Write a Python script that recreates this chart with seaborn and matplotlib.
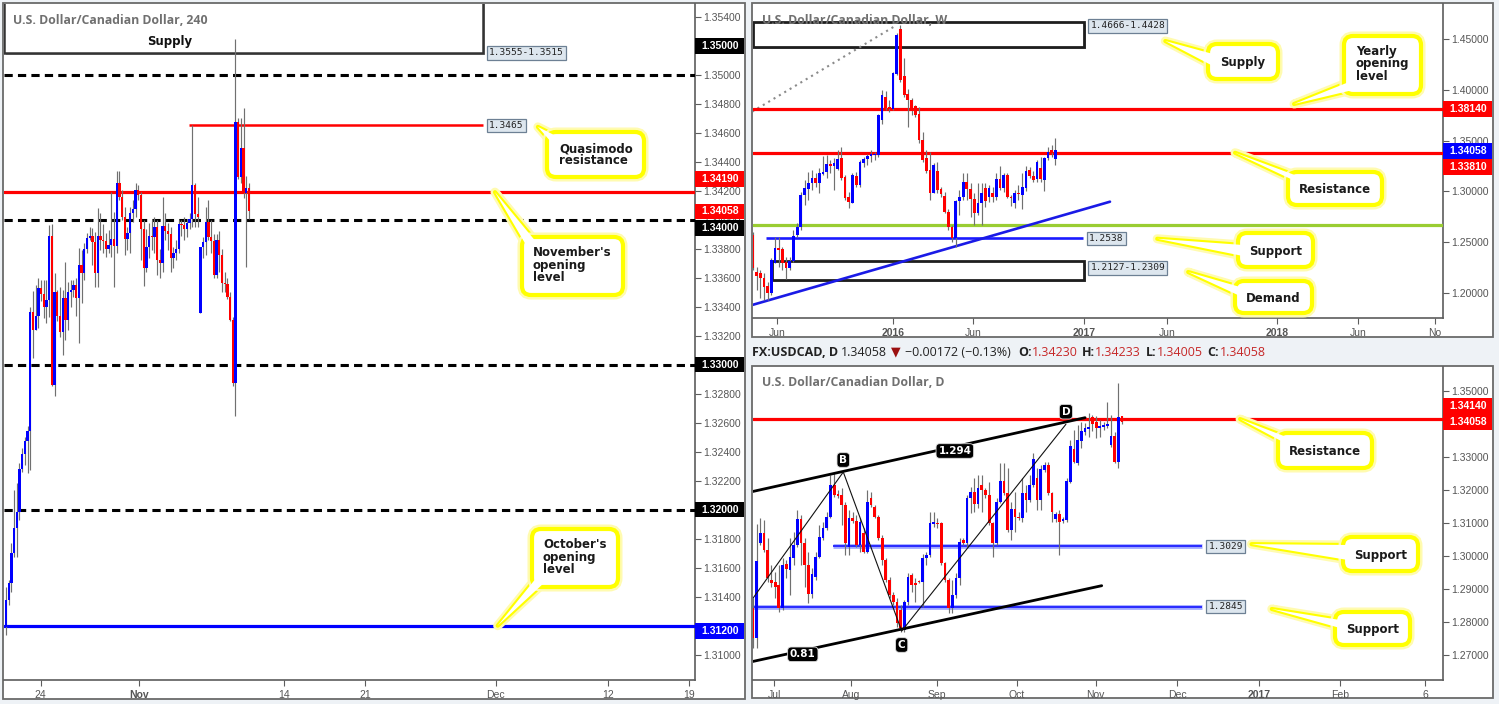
import numpy as np
import matplotlib
matplotlib.use("Agg")
import matplotlib.pyplot as plt
import matplotlib.transforms as mtransforms
import matplotlib.patheffects as pe
from matplotlib.patches import Rectangle, FancyBboxPatch, Polygon
import seaborn as sns

# ======================= DATA =======================
# ---- H4 (240) candles ----
h4_open = [1.31193, 1.31377, 1.31492, 1.31698, 1.31871, 1.31986, 1.32278, 1.32383, 1.32473, 1.32544,
           1.33360, 1.33239, 1.33335, 1.33526, 1.33490, 1.33400, 1.33446, 1.33887, 1.32859, 1.33498,
           1.33337, 1.33227, 1.33457, 1.33308, 1.33498, 1.33514, 1.33549, 1.33457, 1.33687, 1.33629,
           1.33795, 1.33871, 1.33887, 1.33848, 1.33629, 1.33887, 1.33859, 1.33855, 1.33795, 1.33825,
           1.33864, 1.33818, 1.34250, 1.34159, 1.34021, 1.33864, 1.33906, 1.34044, 1.34071, 1.34205,
           1.34170, 1.33933, 1.33664, 1.33814, 1.33887, 1.33883, 1.33952, 1.33722, 1.33700, 1.33956,
           1.33924, 1.33901, 1.33733, 1.33768, 1.33795, 1.33970, 1.33963, 1.33933, 1.33979, 1.34002,
           1.34239, 1.34039, 1.33359, 1.33814, 1.33848, 1.33986, 1.33883, 1.33855, 1.33618, 1.33860,
           1.33756, 1.33566, 1.33556, 1.33469, 1.33308, 1.32874, 1.34676, 1.34297, 1.34493, 1.34182,
           1.34218]
h4_high = [1.31469, 1.31515, 1.31767, 1.32135, 1.32181, 1.32319, 1.32423, 1.32503, 1.32577, 1.33400,
           1.33510, 1.33549, 1.33595, 1.33583, 1.33583, 1.33583, 1.33963, 1.33970, 1.33629, 1.33514,
           1.33537, 1.33514, 1.33710, 1.33572, 1.33583, 1.33583, 1.33595, 1.33802, 1.33790, 1.33836,
           1.33905, 1.33951, 1.33940, 1.33917, 1.34078, 1.34043, 1.33970, 1.33905, 1.33928, 1.34193,
           1.34055, 1.34338, 1.34338, 1.34205, 1.34090, 1.33952, 1.34090, 1.34136, 1.34251, 1.34239,
           1.34193, 1.34000, 1.33933, 1.33979, 1.34000, 1.34021, 1.33998, 1.33800, 1.34159, 1.34044,
           1.33979, 1.33952, 1.33814, 1.33860, 1.33998, 1.34000, 1.34021, 1.34000, 1.34044, 1.34653,
           1.34251, 1.34159, 1.33814, 1.33883, 1.34090, 1.34136, 1.34000, 1.33900, 1.33900, 1.33920,
           1.33800, 1.33640, 1.33600, 1.33500, 1.33330, 1.35244, 1.34700, 1.34700, 1.34768, 1.34300,
           1.34250]
h4_low = [1.31135, 1.31342, 1.31434, 1.31675, 1.31675, 1.31928, 1.32262, 1.32308, 1.32255, 1.32273,
          1.33043, 1.33239, 1.33250, 1.33440, 1.33319, 1.33285, 1.33331, 1.32852, 1.32783, 1.33303,
          1.33193, 1.33066, 1.33170, 1.33239, 1.33400, 1.33468, 1.33335, 1.33147, 1.33423, 1.33583,
          1.33767, 1.33859, 1.33687, 1.33537, 1.33537, 1.33790, 1.33767, 1.33744, 1.33767, 1.33744,
          1.33537, 1.33767, 1.34136, 1.33998, 1.33756, 1.33791, 1.33768, 1.33986, 1.34021, 1.34136,
          1.33722, 1.33540, 1.33640, 1.33733, 1.33791, 1.33768, 1.33618, 1.33595, 1.33640, 1.33860,
          1.33791, 1.33640, 1.33664, 1.33720, 1.33768, 1.33887, 1.33860, 1.33883, 1.33933, 1.33952,
          1.33952, 1.33952, 1.33359, 1.33733, 1.33756, 1.33860, 1.33768, 1.33600, 1.33595, 1.33640,
          1.33500, 1.33500, 1.33450, 1.33300, 1.32850, 1.32648, 1.34280, 1.34250, 1.34150, 1.33676,
          1.34005]
h4_close = [1.31377, 1.31492, 1.31698, 1.31871, 1.31986, 1.32278, 1.32383, 1.32473, 1.32544, 1.33360,
            1.33239, 1.33335, 1.33526, 1.33490, 1.33400, 1.33446, 1.33887, 1.32859, 1.33498, 1.33337,
            1.33227, 1.33457, 1.33308, 1.33498, 1.33514, 1.33549, 1.33457, 1.33687, 1.33629, 1.33795,
            1.33871, 1.33887, 1.33848, 1.33629, 1.33887, 1.33859, 1.33855, 1.33795, 1.33825, 1.33864,
            1.33818, 1.34250, 1.34159, 1.34021, 1.33864, 1.33906, 1.34044, 1.34071, 1.34205, 1.34170,
            1.33933, 1.33664, 1.33814, 1.33887, 1.33883, 1.33952, 1.33722, 1.33700, 1.33956, 1.33924,
            1.33901, 1.33733, 1.33768, 1.33795, 1.33970, 1.33963, 1.33933, 1.33979, 1.34002, 1.34239,
            1.34039, 1.34021, 1.33814, 1.33848, 1.33986, 1.33883, 1.33855, 1.33618, 1.33860, 1.33756,
            1.33566, 1.33556, 1.33469, 1.33308, 1.32874, 1.34676, 1.34297, 1.34493, 1.34182, 1.34218,
            1.34058]
h4_tick_pos = [12.85, 49.37, 102.96, 132.96, 181.37, 223.07, 252.96]
h4_tick_lbl = ["24", "Nov", "14", "21", "Dec", "12", "19"]
h4_yticks = [1.310, 1.314, 1.316, 1.318, 1.320, 1.322, 1.324, 1.326, 1.328, 1.330, 1.332,
             1.334, 1.336, 1.338, 1.340, 1.342, 1.344, 1.346, 1.348, 1.350, 1.352, 1.354]
h4_round_levels = [1.350, 1.340, 1.330, 1.320]
h4_nov_open = 1.3419
h4_oct_open = 1.3120
h4_qm = 1.3465
h4_supply = [1.3515, 1.3555]

# ---- Weekly candles ----
w_open = [1.2571, 1.2209, 1.2193, 1.2143, 1.2068, 1.1995, 1.2291, 1.2439, 1.2429, 1.2308,
          1.2242, 1.2314, 1.2571, 1.2653, 1.2965, 1.3021, 1.3080, 1.3129, 1.3080, 1.3172,
          1.3195, 1.3271, 1.3254, 1.3218, 1.3327, 1.3146, 1.2942, 1.2890, 1.3152, 1.3064,
          1.3284, 1.3317, 1.3350, 1.3360, 1.3360, 1.3705, 1.3935, 1.3830, 1.3810, 1.4158,
          1.4599, 1.4139, 1.3958, 1.3902, 1.3843, 1.3761, 1.3507, 1.3327, 1.3212, 1.2988,
          1.3205, 1.3021, 1.2955, 1.2797, 1.2653, 1.2538, 1.2906, 1.2942, 1.3097, 1.3021,
          1.2922, 1.2784, 1.2883, 1.3037, 1.2949, 1.2982, 1.2949, 1.3123, 1.3037, 1.3162,
          1.2942, 1.2883, 1.2988, 1.2965, 1.3031, 1.3212, 1.3156, 1.3120, 1.3235, 1.3113,
          1.3327, 1.3409, 1.3320]
w_high = [1.2600, 1.2258, 1.2225, 1.2193, 1.2111, 1.2341, 1.2554, 1.2554, 1.2456, 1.2357,
          1.2357, 1.2620, 1.2692, 1.2998, 1.3113, 1.3195, 1.3212, 1.3179, 1.3228, 1.3350,
          1.3360, 1.3310, 1.3327, 1.3409, 1.3442, 1.3162, 1.2998, 1.3179, 1.3195, 1.3310,
          1.3343, 1.3369, 1.3409, 1.3392, 1.3764, 1.4001, 1.3994, 1.3902, 1.4181, 1.4559,
          1.4640, 1.4313, 1.4007, 1.3918, 1.3853, 1.3830, 1.3590, 1.3409, 1.3392, 1.3277,
          1.3287, 1.3047, 1.2998, 1.2830, 1.2669, 1.2916, 1.3014, 1.3179, 1.3179, 1.3087,
          1.2982, 1.3087, 1.3087, 1.3080, 1.3064, 1.3047, 1.3179, 1.3251, 1.3179, 1.3179,
          1.2965, 1.3014, 1.3064, 1.3179, 1.3251, 1.3244, 1.3205, 1.3310, 1.3337, 1.3343,
          1.3442, 1.3459, 1.3524]
w_low = [1.2225, 1.2028, 1.1946, 1.1930, 1.1930, 1.1979, 1.2291, 1.2258, 1.2225, 1.2134,
         1.2225, 1.2308, 1.2554, 1.2620, 1.2866, 1.2916, 1.3014, 1.3047, 1.2982, 1.3162,
         1.3129, 1.3179, 1.3014, 1.3212, 1.3113, 1.2916, 1.2834, 1.2883, 1.3047, 1.3047,
         1.3244, 1.3261, 1.3294, 1.3310, 1.3343, 1.3665, 1.3803, 1.3787, 1.3803, 1.4148,
         1.4083, 1.3935, 1.3639, 1.3754, 1.3738, 1.3481, 1.3294, 1.3179, 1.2916, 1.2982,
         1.2982, 1.2949, 1.2784, 1.2620, 1.2505, 1.2456, 1.2768, 1.2916, 1.2916, 1.2751,
         1.2669, 1.2768, 1.2669, 1.2850, 1.2899, 1.2899, 1.2916, 1.3014, 1.2998, 1.2932,
         1.2857, 1.2834, 1.2916, 1.2824, 1.3000, 1.3130, 1.3097, 1.3097, 1.3097, 1.3008,
         1.3310, 1.3343, 1.3265]
w_close = [1.2242, 1.2166, 1.2143, 1.2061, 1.1995, 1.2324, 1.2439, 1.2423, 1.2291, 1.2242,
           1.2314, 1.2561, 1.2653, 1.2965, 1.3031, 1.3080, 1.3129, 1.3080, 1.3179, 1.3195,
           1.3271, 1.3254, 1.3277, 1.3317, 1.3129, 1.2932, 1.2899, 1.3162, 1.3064, 1.3294,
           1.3317, 1.3350, 1.3366, 1.3366, 1.3754, 1.3951, 1.3820, 1.3810, 1.4171, 1.4543,
           1.4099, 1.3951, 1.3902, 1.3797, 1.3754, 1.3507, 1.3310, 1.3205, 1.2988, 1.3261,
           1.3014, 1.2975, 1.2797, 1.2653, 1.2538, 1.2906, 1.2949, 1.3097, 1.3021, 1.2922,
           1.2784, 1.2883, 1.2988, 1.2906, 1.3031, 1.2949, 1.3123, 1.3031, 1.3162, 1.2949,
           1.2932, 1.2988, 1.2975, 1.3041, 1.3205, 1.3156, 1.3113, 1.3287, 1.3120, 1.3327,
           1.3392, 1.3376, 1.3406]
w_tick_pos = [6.5, 37.94, 59.62, 89.86, 112.2, 142.1, 163.96, 184.9]
w_tick_lbl = ["Jun", "2016", "Jun", "2017", "Jun", "2018", "Jun", "No"]
w_yticks = [1.20, 1.25, 1.30, 1.35, 1.40, 1.45]
w_yearly_open = 1.3814
w_resistance = 1.3381
w_green = 1.2666
w_support = 1.2538
w_supply = [1.4428, 1.4666]
w_demand = [1.2127, 1.2309]
w_trend_x = [-0.2, 96.8]
w_trend_y = [1.18797, 1.28984]
w_dots_x = [-0.2, 39.0]
w_dots_y = [1.3786, 1.4641]

# ---- Daily candles ----
d_open = [1.28405, 1.27496, 1.30375, 1.30678, 1.30173, 1.29264, 1.29213, 1.29112, 1.28405, 1.29739,
          1.29567, 1.29940, 1.30324, 1.31112, 1.30375, 1.29718, 1.28829, 1.29365, 1.29971, 1.30526,
          1.30829, 1.31183, 1.32143, 1.31860, 1.31840, 1.31537, 1.30274, 1.31152, 1.31051, 1.30324,
          1.30678, 1.30122, 1.31739, 1.31486, 1.31183, 1.30526, 1.29870, 1.29264, 1.28809, 1.28607,
          1.28355, 1.27749, 1.28607, 1.29415, 1.29163, 1.29238, 1.29213, 1.29920, 1.30021, 1.30951,
          1.31001, 1.30981, 1.29769, 1.29264, 1.28405, 1.28809, 1.29314, 1.30476, 1.30375, 1.31739,
          1.31941, 1.31557, 1.32143, 1.31991, 1.31840, 1.30981, 1.30375, 1.31638, 1.32264, 1.31890,
          1.30779, 1.31415, 1.31183, 1.31152, 1.31890, 1.31688, 1.32143, 1.32345, 1.31688, 1.32597,
          1.32749, 1.31890, 1.31112, 1.31254, 1.31051, 1.31082, 1.32244, 1.33233, 1.32799, 1.33476,
          1.33759, 1.33840, 1.34213, 1.34062, 1.33880, 1.33910, 1.33941, 1.33355, 1.33637, 1.32850,
          1.34230]
d_high = [1.28708, 1.30951, 1.31132, 1.31082, 1.30526, 1.29718, 1.29516, 1.29718, 1.29920, 1.29870,
          1.30526, 1.30728, 1.31385, 1.31233, 1.30526, 1.30122, 1.29617, 1.30122, 1.30930, 1.31031,
          1.31334, 1.32446, 1.32516, 1.31991, 1.32042, 1.31638, 1.31385, 1.31334, 1.31233, 1.31132,
          1.30829, 1.31991, 1.31941, 1.31537, 1.31233, 1.30627, 1.29920, 1.29365, 1.28910, 1.28708,
          1.28506, 1.28657, 1.29466, 1.29466, 1.29314, 1.29264, 1.30042, 1.30122, 1.31334, 1.31334,
          1.31132, 1.31031, 1.29819, 1.29314, 1.29264, 1.29466, 1.30526, 1.30526, 1.31840, 1.32092,
          1.32345, 1.32446, 1.32446, 1.32042, 1.32244, 1.31031, 1.31739, 1.32799, 1.32799, 1.32648,
          1.31638, 1.31941, 1.31334, 1.32345, 1.32143, 1.32446, 1.33102, 1.32648, 1.32749, 1.32850,
          1.32850, 1.31941, 1.31334, 1.31385, 1.31183, 1.32345, 1.33506, 1.33809, 1.33961, 1.34062,
          1.34011, 1.34315, 1.34264, 1.34244, 1.34112, 1.34062, 1.34668, 1.34264, 1.33759, 1.35223,
          1.34233]
d_low = [1.27193, 1.27193, 1.30324, 1.30122, 1.29213, 1.29062, 1.28708, 1.28304, 1.28355, 1.29314,
         1.28809, 1.29718, 1.30274, 1.29718, 1.29062, 1.28557, 1.28708, 1.29264, 1.29920, 1.30476,
         1.30779, 1.31132, 1.31789, 1.31739, 1.30930, 1.30021, 1.30021, 1.30981, 1.30274, 1.30122,
         1.30072, 1.30072, 1.31486, 1.31132, 1.30476, 1.29718, 1.29213, 1.28708, 1.28506, 1.27850,
         1.27698, 1.27698, 1.28506, 1.28910, 1.28607, 1.29163, 1.28456, 1.29718, 1.29971, 1.30880,
         1.30829, 1.29718, 1.29213, 1.28254, 1.28254, 1.28708, 1.29112, 1.30324, 1.30274, 1.31284,
         1.31334, 1.31436, 1.31334, 1.31739, 1.30930, 1.29971, 1.30324, 1.31587, 1.31840, 1.30728,
         1.30476, 1.30728, 1.31082, 1.31031, 1.31334, 1.31638, 1.32092, 1.31385, 1.31385, 1.32547,
         1.31840, 1.31031, 1.31031, 1.30021, 1.30981, 1.31031, 1.32193, 1.32799, 1.32749, 1.33254,
         1.33658, 1.33607, 1.33779, 1.33557, 1.33607, 1.33809, 1.33860, 1.33304, 1.32799, 1.32648,
         1.34005]
d_close = [1.27496, 1.29840, 1.30678, 1.30173, 1.29314, 1.29163, 1.29062, 1.28405, 1.29718, 1.29597,
           1.29971, 1.30324, 1.31112, 1.30375, 1.29718, 1.28829, 1.29436, 1.29971, 1.30577, 1.30829,
           1.31183, 1.32143, 1.31840, 1.31820, 1.31537, 1.30375, 1.31132, 1.31051, 1.30324, 1.31031,
           1.30122, 1.31638, 1.31537, 1.31183, 1.30526, 1.29870, 1.29264, 1.28809, 1.28607, 1.27950,
           1.27800, 1.28607, 1.29365, 1.29112, 1.29112, 1.29198, 1.29920, 1.30021, 1.30981, 1.31031,
           1.30951, 1.29769, 1.29264, 1.28405, 1.28809, 1.29314, 1.30425, 1.30375, 1.31739, 1.31941,
           1.31557, 1.32042, 1.31991, 1.31840, 1.30981, 1.30375, 1.31638, 1.32264, 1.31890, 1.30779,
           1.31415, 1.31183, 1.31152, 1.31890, 1.31688, 1.32143, 1.32930, 1.31688, 1.32627, 1.32749,
           1.31890, 1.31334, 1.31254, 1.31031, 1.31112, 1.32264, 1.33324, 1.32829, 1.33506, 1.33779,
           1.33860, 1.33910, 1.33981, 1.33860, 1.33930, 1.33961, 1.33981, 1.33637, 1.32850, 1.34213,
           1.34058]
d_tick_pos = [5.77, 26.56, 49.95, 71.46, 92.87, 114.99, 137.21, 159.08, 182.11]
d_tick_lbl = ["Jul", "Aug", "Sep", "Oct", "Nov", "Dec", "2017", "Feb", "6"]
d_yticks = [1.27, 1.28, 1.29, 1.30, 1.31, 1.32, 1.33, 1.35]
d_resistance = 1.3414
d_supports = [1.3029, 1.2845]
d_upper_x = [-0.35, 90.0]
d_upper_y = [1.31939, 1.34182]
d_lower_x = [-0.35, 94.5]
d_lower_y = [1.26788, 1.29091]
d_abcd_x = [-0.35, 24.47, 40.3, 84.8]
d_abcd_y = [1.28658, 1.32536, 1.27718, 1.33982]

# ======================= STYLE =======================
sns.set_theme(style="white")
plt.rcParams["font.family"] = ["Liberation Sans", "DejaVu Sans"]

W, H = 1499, 704
BG = "#eef2f6"
UP, DOWN, WICK = "#0000ff", "#ff0000", "#707070"
GTXT = "#555555"
SPINE = "#5c5c5c"
YEL = "#ffff00"

fig = plt.figure(figsize=(W / 100, H / 100), dpi=100)
fig.patch.set_facecolor(BG)


def panel(l, t, r, b):
    fig.patches.append(Rectangle((l / W, 1 - b / H), (r - l) / W, (b - t) / H,
                                 transform=fig.transFigure, fc="white", ec="#6a6a6a",
                                 lw=1.3, zorder=-5))


def axes_px(l, t, r, b, xlim, ylim):
    ax = fig.add_axes([l / W, 1 - b / H, (r - l) / W, (b - t) / H])
    ax.set_facecolor("white")
    for s in ("top", "left"):
        ax.spines[s].set_visible(False)
    for s in ("right", "bottom"):
        ax.spines[s].set_color(SPINE)
        ax.spines[s].set_linewidth(1.2)
    ax.yaxis.tick_right()
    ax.tick_params(axis="y", which="both", right=True, left=False, labelright=True,
                   labelleft=False, length=4, width=0.8, color=SPINE, labelsize=7.5,
                   labelcolor=GTXT, pad=2)
    ax.tick_params(axis="x", bottom=True, length=4, width=0.8, color=SPINE,
                   labelsize=7.5, labelcolor=GTXT, pad=3)
    ax.grid(False)
    ax.set_xlim(*xlim)
    ax.set_ylim(*ylim)
    ax.set_autoscale_on(False)
    return ax


def candles(ax, o, h, l, c, width, minh):
    o, h, l, c = map(np.asarray, (o, h, l, c))
    x = np.arange(len(o))
    ax.vlines(x, l, h, color=WICK, lw=0.85, zorder=4)
    bottom = np.minimum(o, c)
    height = np.maximum(np.abs(c - o), minh)
    colors = np.where(c >= o, UP, DOWN)
    ax.bar(x, height, width=width, bottom=bottom, color=colors, linewidth=0, zorder=5)


def set_xticks(ax, pos, lbl, bold):
    ax.set_xticks(pos)
    ax.set_xticklabels(lbl)
    for t, s in zip(ax.get_xticklabels(), lbl):
        if s in bold:
            t.set_fontweight("bold")


def set_yticks(ax, ticks):
    ax.set_yticks(ticks)
    ax.set_yticklabels([f"{v:.5f}" for v in ticks])


def price_tag(ax, y, text, fc, hpx=15.5, wpx=49):
    tr = mtransforms.blended_transform_factory(ax.transAxes, ax.transData)
    axw = ax.bbox.width
    y0, y1 = ax.get_ylim()
    ppu = ax.bbox.height / (y1 - y0)
    ax.add_patch(Rectangle((1.0, y - hpx / 2 / ppu), wpx / axw, hpx / ppu, transform=tr,
                           fc=fc, ec="none", clip_on=False, zorder=30))
    ax.text(1.0 + (wpx / 2 + 1) / axw, y, text, transform=tr, ha="center", va="center",
            color="white", fontsize=7.5, fontweight="bold", clip_on=False, zorder=31)


def level_tag(ax, x, y, text, va="center", dy=0):
    ax.annotate(text, xy=(x, y), xytext=(6, dy), textcoords="offset pixels", ha="left",
                va=va, fontsize=6.8, family="DejaVu Sans Mono", color="#222222",
                bbox=dict(boxstyle="square,pad=0.22", fc="#dde6ee", ec="#6d8094", lw=0.9),
                zorder=25, annotation_clip=False)


def dark_tag(ax, x, y, text, fs=7.5):
    ax.text(x, y, text, ha="center", va="center", fontsize=fs, fontweight="bold",
            color="white", family="DejaVu Sans", zorder=26,
            bbox=dict(boxstyle="round,pad=0.22,rounding_size=0.35", fc="black", ec="#dddddd", lw=0.6))


panel(3.3, 3.3, 745, 699.3)
panel(751.7, 2.7, 1493, 336.7)
panel(751.7, 365.7, 1493.3, 698)

# ======================= H4 PANEL =======================
ax1 = axes_px(4, 4, 695, 680, (-0.74, 255.19), (1.308255, 1.354876))
ax1.add_patch(Rectangle((-0.74, h4_supply[0]), 176.7 + 0.74, h4_supply[1] - h4_supply[0],
                        fc="white", ec="#333333", lw=1.8, zorder=2,
                        path_effects=[pe.SimplePatchShadow(offset=(1.5, -1.5), shadow_rgbFace="#999999", alpha=0.8), pe.Normal()]))
ax1.text(60.7, 1.35232, "Supply", ha="center", va="center", fontsize=8.5, fontweight="bold",
         color="#111111", family="DejaVu Sans", zorder=6)
for lv in h4_round_levels:
    ax1.axhline(lv, color="black", lw=2.2, ls=(0, (2.7, 1.7)), zorder=3)
ax1.axhline(h4_nov_open, color="#ff0000", lw=2.3, zorder=3)
ax1.axhline(h4_oct_open, color="#0000ff", lw=2.3, zorder=3)
ax1.hlines(h4_qm, 67.8, 176.7, color="#ff0000", lw=1.8, zorder=3)
candles(ax1, h4_open, h4_high, h4_low, h4_close, 0.88, 0.00007)
level_tag(ax1, 176.7, h4_supply[0], "1.3555-1.3515")
level_tag(ax1, 176.7, h4_qm, "1.3465")
set_xticks(ax1, h4_tick_pos, h4_tick_lbl, {"Nov"})
set_yticks(ax1, h4_yticks)
for txt, yy, col in [("1.35000", 1.35198, "black"), ("1.34190", 1.34281, "#ff0000"),
                     ("1.34058", 1.34058, "#ff0000"), ("1.34000", 1.33943, "black"),
                     ("1.33000", 1.33000, "black"), ("1.32000", 1.32000, "black"),
                     ("1.31200", 1.31164, "#0000ff")]:
    price_tag(ax1, yy, txt, col)

# ======================= WEEKLY PANEL =======================
ax2 = axes_px(752.7, 3.7, 1443, 318, (-0.05, 187.07), (1.17515, 1.48511))
for lo, hi, x0 in [(w_supply[0], w_supply[1], -0.05), (w_demand[0], w_demand[1], 5.15)]:
    ax2.add_patch(Rectangle((x0, lo), 89.86 - x0, hi - lo, fc="white", ec="#1e1e1e", lw=2.0, zorder=2,
                            path_effects=[pe.SimplePatchShadow(offset=(1.5, -1.5), shadow_rgbFace="#888888", alpha=0.8), pe.Normal()]))
sns.lineplot(x=w_dots_x, y=w_dots_y, ax=ax2, color="#8a8a8a", lw=1.5, ls=(0, (1, 2)), zorder=3)
ax2.axhline(w_yearly_open, color="#ff0000", lw=2.3, zorder=3)
ax2.axhline(w_resistance, color="#ff0000", lw=2.3, zorder=3)
ax2.axhline(w_green, color="#9acd32", lw=2.3, zorder=3)
ax2.hlines(w_support, 3.5, 89.5, color="#1a1aff", lw=1.9, zorder=3)
sns.lineplot(x=w_trend_x, y=w_trend_y, ax=ax2, color="#1a1ae6", lw=1.9, zorder=3)
candles(ax2, w_open, w_high, w_low, w_close, 0.74, 0.001)
level_tag(ax2, 89.86, w_supply[1], "1.4666-1.4428", va="top", dy=1)
level_tag(ax2, 89.5, w_support, "1.2538")
level_tag(ax2, 89.86, w_demand[1], "1.2127-1.2309", va="top", dy=-2)
set_xticks(ax2, w_tick_pos, w_tick_lbl, {"2016", "2017", "2018"})
set_yticks(ax2, w_yticks)
ax2.set_xlabel("")
ax2.set_ylabel("")
for txt, yy, col in [("1.38140", 1.38156, "#ff0000"), ("1.34058", 1.33964, "#0000ff"),
                     ("1.33810", 1.32436, "#ff0000")]:
    price_tag(ax2, yy, txt, col, hpx=16)

# ======================= DAILY PANEL =======================
ax3 = axes_px(752.7, 366.7, 1443, 680, (-0.08, 186.99), (1.262333, 1.357273))
ax3.axhline(d_resistance, color="#ff0000", lw=2.3, zorder=3)
for lv, x0 in zip(d_supports, [21.6, -0.08]):
    ax3.hlines(lv, x0, 121.8, color="#9fa8ff", lw=3.4, zorder=3)
    ax3.hlines(lv, x0, 121.8, color="#2020ff", lw=1.3, zorder=3)
candles(ax3, d_open, d_high, d_low, d_close, 0.74, 0.0003)
sns.lineplot(x=d_upper_x, y=d_upper_y, ax=ax3, color="black", lw=2.0, zorder=6)
sns.lineplot(x=d_lower_x, y=d_lower_y, ax=ax3, color="black", lw=2.0, zorder=6)
sns.lineplot(x=d_abcd_x, y=d_abcd_y, ax=ax3, color="#111111", lw=0.8, sort=False, zorder=6)
dark_tag(ax3, 54.7, 1.33173, "1.294")
dark_tag(ax3, 13.5, 1.27012, "0.81")
dark_tag(ax3, 24.47, 1.32900, "B")
dark_tag(ax3, 40.3, 1.27294, "C")
dark_tag(ax3, 84.8, 1.34364, "D")
level_tag(ax3, 121.8, d_supports[0], "1.3029")
level_tag(ax3, 121.8, d_supports[1], "1.2845")
set_xticks(ax3, d_tick_pos, d_tick_lbl, {"2017"})
set_yticks(ax3, d_yticks)
ax3.set_xlabel("")
ax3.set_ylabel("")
for txt, yy in [("1.34140", 1.34530), ("1.34058", 1.34045)]:
    price_tag(ax3, yy, txt, "#ff0000", hpx=16.2)

# ======================= TITLES / HEADER =======================
TFAM = ["Open Sans", "DejaVu Sans"]
fig.text(12.7 / W, 1 - 20 / H, "U.S. Dollar/Canadian Dollar, 240", family=TFAM, fontsize=8.8,
         fontweight="bold", color="#707070", va="center", ha="left", zorder=60)
fig.text(761.7 / W, 1 - 20 / H, "U.S. Dollar/Canadian Dollar, W", family=TFAM, fontsize=8.8,
         fontweight="bold", color="#707070", va="center", ha="left", zorder=60)
fig.text(761.7 / W, 1 - 382 / H, "U.S. Dollar/Canadian Dollar, D", family=TFAM, fontsize=8.8,
         fontweight="bold", color="#707070", va="center", ha="left", zorder=60)

RED = "#c62828"
header = [(751.7, "FX:USDCAD, D", "#222222", "bold"), (840.7, "1.34058", "#222222", "normal"),
          (891.0, "\u25BC", "#9b1010", "normal"), (905.0, "\u22120.00172 (\u22120.13%)", "#222222", "normal"),
          (1018.0, "O:", "#222222", "bold"), (1031.7, "1.34230", RED, "normal"),
          (1081.7, "H:", "#222222", "bold"), (1095.0, "1.34233", RED, "normal"),
          (1145.7, "L:", "#222222", "bold"), (1156.7, "1.34005", RED, "normal"),
          (1207.7, "C:", "#222222", "bold"), (1220.0, "1.34058", RED, "normal")]
for xp, s, col, wt in header:
    fig.text(xp / W, 1 - 352 / H, s, family=TFAM, fontsize=9, fontweight=wt, color=col,
             va="center", ha="left")

# ======================= CALLOUTS =======================
ov = fig.add_axes([0, 0, 1, 1], zorder=50)
ov.set_xlim(0, W)
ov.set_ylim(H, 0)
ov.axis("off")
ov.patch.set_alpha(0)


def to_px(ax, x, y):
    dx, dy = ax.transData.transform((x, y))
    return dx, H - dy


def callout(box, tip, base, text, left=None):
    l, t, r, b = box
    glow = [pe.Stroke(linewidth=6.5, foreground="#fffbb0"), pe.Normal()]
    wedge = [base[0], tip, base[1]]
    ov.add_patch(Polygon(wedge, closed=True, fc="white", ec=YEL, lw=3.0, joinstyle="round",
                         path_effects=glow, zorder=1))
    ov.add_patch(FancyBboxPatch((l, t), r - l, b - t, boxstyle="round,pad=0,rounding_size=9",
                                fc="white", ec=YEL, lw=3.0, path_effects=glow, zorder=2))
    ov.add_patch(Polygon(wedge, closed=True, fc="white", ec="none", zorder=3))
    if left is None:
        ov.text((l + r) / 2, (t + b) / 2 + 1, text, ha="center", va="center", fontsize=8.5,
                fontweight="bold", color="#1a1a1a", family="DejaVu Sans", zorder=4)
    else:
        ov.text(left[0], left[1], text, ha="left", va="top", fontsize=8.5, linespacing=0.95,
                fontweight="bold", color="#1a1a1a", family="DejaVu Sans", zorder=4)


callout((547, 132, 644, 177), to_px(ax1, 197.0, 1.3464), [(558, 137), (552, 143)],
        "Quasimodo\nresistance", left=(559, 142))
callout((522, 237, 623, 295), to_px(ax1, 181.1, h4_nov_open), [(529, 250), (537, 243)],
        "November's\nopening\nlevel", left=(533, 246))
callout((532, 529, 618, 587), to_px(ax1, 182.1, h4_oct_open), [(537, 577), (545, 582)],
        "October's\nopening\nlevel", left=(543, 538))
callout((1208, 44, 1278, 79), to_px(ax2, 111.8, 1.4483), [(1213, 54), (1213, 66)], "Supply")
callout((1344, 36, 1421, 94), to_px(ax2, 146.7, 1.3862), [(1349, 82), (1357, 89)],
        "Yearly\nopening\nlevel", left=(1356, 45))
callout((1288, 172, 1382, 205), to_px(ax2, 130.7, w_resistance), [(1293, 180), (1300, 177)], "Resistance")
callout((1238, 233, 1313, 267), to_px(ax2, 109.6, 1.2533), [(1243, 245), (1243, 256)], "Support")
callout((1235, 281, 1312, 313), to_px(ax2, 118.0, 1.2205), [(1240, 287), (1240, 296)], "Demand")
callout((1278, 433, 1372, 468), to_px(ax3, 132.0, d_resistance), [(1283, 442), (1289, 438)], "Resistance")
callout((1343, 537, 1418, 571), to_px(ax3, 135.1, 1.3035), [(1348, 545), (1348, 560)], "Support")
callout((1335, 612, 1410, 645), to_px(ax3, 140.6, 1.28385), [(1340, 620), (1340, 628)], "Support")

fig.savefig("out.png", dpi=100, facecolor=BG)
